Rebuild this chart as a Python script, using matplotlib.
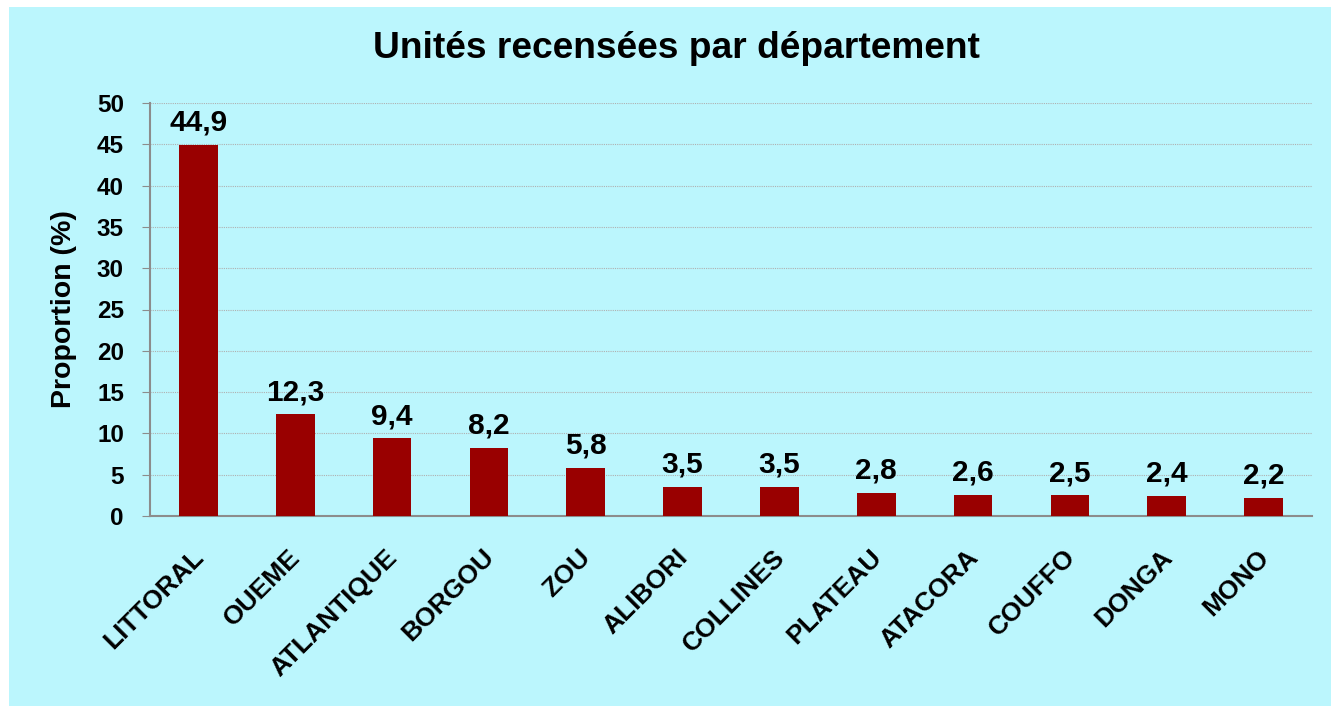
"""Bar chart: units recorded per department (share in %)."""

import matplotlib

matplotlib.use("Agg")
import matplotlib.pyplot as plt
from matplotlib.patches import Rectangle
from matplotlib.transforms import ScaledTranslation

departements = ["LITTORAL", "OUEME", "ATLANTIQUE", "BORGOU", "ZOU", "ALIBORI",
                "COLLINES", "PLATEAU", "ATACORA", "COUFFO", "DONGA", "MONO"]
proportions = [44.9, 12.3, 9.4, 8.2, 5.8, 3.5, 3.5, 2.8, 2.6, 2.5, 2.4, 2.2]
yticks = [0, 5, 10, 15, 20, 25, 30, 35, 40, 45, 50]

plt.rcParams["font.family"] = ["Liberation Sans", "DejaVu Sans"]
plt.rcParams["font.weight"] = "bold"

bg = "#bbf6fd"
bar_color = "#990000"

fig = plt.figure(figsize=(13.31, 7.06), dpi=100)
fig.patch.set_facecolor("white")
fig.add_artist(Rectangle((9 / 1331, 0), 1, 1 - 7 / 706, transform=fig.transFigure,
                         facecolor=bg, edgecolor="none", zorder=0))

ax = fig.add_axes([150 / 1331, 1 - 516 / 706, 1162 / 1331, 413 / 706])
ax.set_facecolor(bg)
x = list(range(len(departements)))
bars = ax.bar(x, proportions, width=0.4, color=bar_color, zorder=3)
for rect, value in zip(bars, proportions):
    ax.annotate(f"{value:.1f}".replace(".", ","),
                (rect.get_x() + rect.get_width() / 2, value),
                xytext=(0, 6), textcoords="offset points", ha="center", va="bottom",
                fontsize=21.5, fontweight="bold")

ax.set_xlim(-0.5, len(departements) - 0.5)
ax.set_ylim(0, 50)
ax.set_yticks(yticks)
ax.set_yticklabels([str(v) for v in yticks], fontsize=17.5, fontweight="bold")
ax.set_xticks(x)
ax.set_xticklabels([])
ax.tick_params(axis="x", length=0)
# slanted category labels, ends tucked just below each bar
label_trans = ax.get_xaxis_transform() + ScaledTranslation(-7 / 100, -29 / 100,
                                                           fig.dpi_scale_trans)
for i, name in zip(x, departements):
    ax.text(i, 0, name, transform=label_trans, rotation=45, ha="right", va="top",
            rotation_mode="anchor", fontsize=19, fontweight="bold", clip_on=False)
ax.tick_params(axis="y", length=5.8, color="#8c8c8c", pad=13)
ax.grid(axis="y", color="#b0b0b0", linestyle=(0, (1, 1)), linewidth=0.8, zorder=0)
for side in ("top", "right"):
    ax.spines[side].set_visible(False)
for side in ("left", "bottom"):
    ax.spines[side].set_color("#8c8c8c")
    ax.spines[side].set_linewidth(1.5)
ax.set_ylabel("Proportion (%)", fontsize=20.5, fontweight="bold", labelpad=14)

fig.text(0.508, 1 - 48 / 706, "Unités recensées par département", ha="center", va="center",
         fontsize=26.7, fontweight="bold")

fig.savefig("out.png", dpi=100)
